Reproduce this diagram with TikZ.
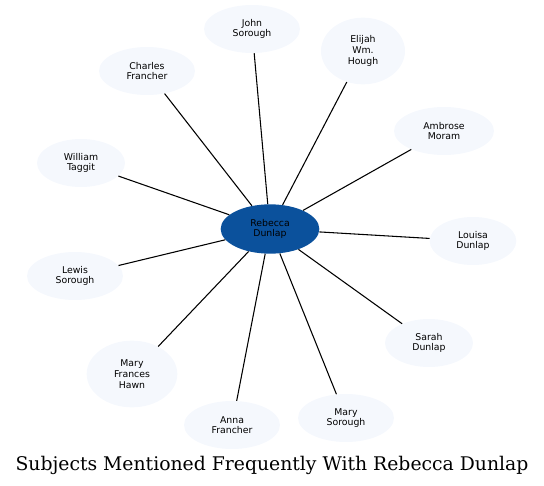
\documentclass[tikz,border=0pt]{standalone}
\usepackage{fontspec}
\setmainfont{DejaVu Sans}
\newfontfamily\titlefont{DejaVu Serif}
\usetikzlibrary{shapes.geometric}
\definecolor{hub}{HTML}{0B519C}
\definecolor{leaf}{HTML}{F5F8FD}

\begin{document}
\begin{tikzpicture}[
  x=0.75pt, y=-0.75pt,
  every node/.style={font=\fontsize{7}{8}\selectfont, align=center},
  person/.style={ellipse, fill=leaf, inner sep=0pt, minimum width=72pt, minimum height=36pt},
  center/.style={ellipse, fill=hub, inner sep=0pt, minimum width=74pt, minimum height=37pt},
  link/.style={draw=black, line width=0.8pt}
]
  \useasboundingbox (0,0) rectangle (544,486);

  % hub
  \node[center] (rebecca) at (270,229) {Rebecca\\Dunlap};

  % people around the hub
  \node[person] (john)    at (252,29)  {John\\Sorough};
  \node[person, minimum width=63pt, minimum height=50pt] (elijah) at (363,51) {Elijah\\Wm.\\Hough};
  \node[person] (charles) at (147,71)  {Charles\\Francher};
  \node[person, minimum width=75pt] (ambrose) at (444,131) {Ambrose\\Moram};
  \node[person, minimum width=66pt] (william) at (81,163) {William\\Taggit};
  \node[person, minimum width=65pt] (louisa)  at (473,241) {Louisa\\Dunlap};
  \node[person] (lewis)   at (75,276)  {Lewis\\Sorough};
  \node[person, minimum width=66pt] (sarah)   at (429,343) {Sarah\\Dunlap};
  \node[person, minimum width=68pt, minimum height=50pt] (mary1) at (132,374) {Mary\\Frances\\Hawn};
  \node[person] (anna)    at (232,425) {Anna\\Francher};
  \node[person] (mary2)   at (346,418) {Mary\\Sorough};

  % links
  \foreach \who in {john,elijah,charles,ambrose,william,louisa,lewis,sarah,mary1,anna,mary2}
    \draw[link] (rebecca) -- (\who);

  % title
  \node[font=\titlefont\fontsize{14.1}{16}\selectfont] (title) at (272,465)
    {Subjects Mentioned Frequently With Rebecca Dunlap};
\end{tikzpicture}
\end{document}
